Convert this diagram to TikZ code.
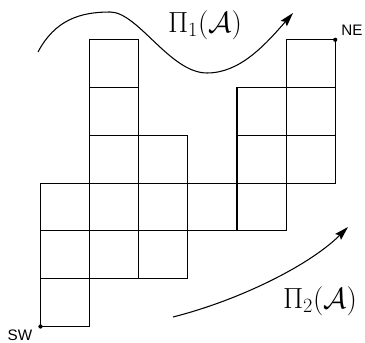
\documentclass[tikz,border=0pt]{standalone}
\usepackage{amsmath,amssymb}
\usepackage{fontspec}
\usepackage{tikz}
\usetikzlibrary{arrows.meta,positioning}
\newfontfamily\cornerfont{Liberation Sans}
\tikzset{
    cell/.style={draw=black, line width=0.9pt},
    cornerlabel/.style={font=\cornerfont\fontsize{13}{15}\selectfont, inner sep=0pt},
    pathlabel/.style={font=\fontsize{24}{28}\selectfont, inner sep=0pt},
    pathcurve/.style={line width=0.9pt, -{Stealth[length=12pt,width=7pt,inset=2pt]}}
}

\begin{document}
\begin{tikzpicture}[x=0.03cm, y=-0.03cm]
\useasboundingbox (0,0) rectangle (365,343);

% the cells
\begin{scope}[shift={(40.5,326.5)}, x=1.4735cm, y=1.4335cm]
\foreach \c/\r in {0/0,0/1,0/2,1/1,1/2,1/3,1/4,1/5,2/1,2/2,2/3,3/2,4/2,4/3,4/4,5/3,5/4,5/5}
{
    \draw[cell] (\c,\r) rectangle ++(1,1);
}
\coordinate (sw) at (0,0);
\coordinate (ne) at (6,6);
\end{scope}

\fill (sw) circle (1.8pt);
\fill (ne) circle (1.8pt);
\node[cornerlabel] (swlabel) at (20,335) {SW};
\node[cornerlabel] (nelabel) at (352,30) {NE};

% the two paths
\coordinate (upstart) at (38,52);
\coordinate (upend) at (293,13);
\coordinate (lowstart) at (173,317);
\coordinate (lowend) at (348,227);
\draw[pathcurve] (upstart) .. controls (55,20) and (80,12) .. (110,12)
    .. controls (138,12) and (170,73) .. (207,73)
    .. controls (240,73) and (265,45) .. (upend);
\draw[pathcurve] (lowstart) .. controls (240,300) and (310,265) .. (lowend);

\node[pathlabel] (upper) at (205,25) {$\Pi_1(\mathcal{A})$};
\node[pathlabel] (lower) at (320,301) {$\Pi_2(\mathcal{A})$};
\end{tikzpicture}
\end{document}
